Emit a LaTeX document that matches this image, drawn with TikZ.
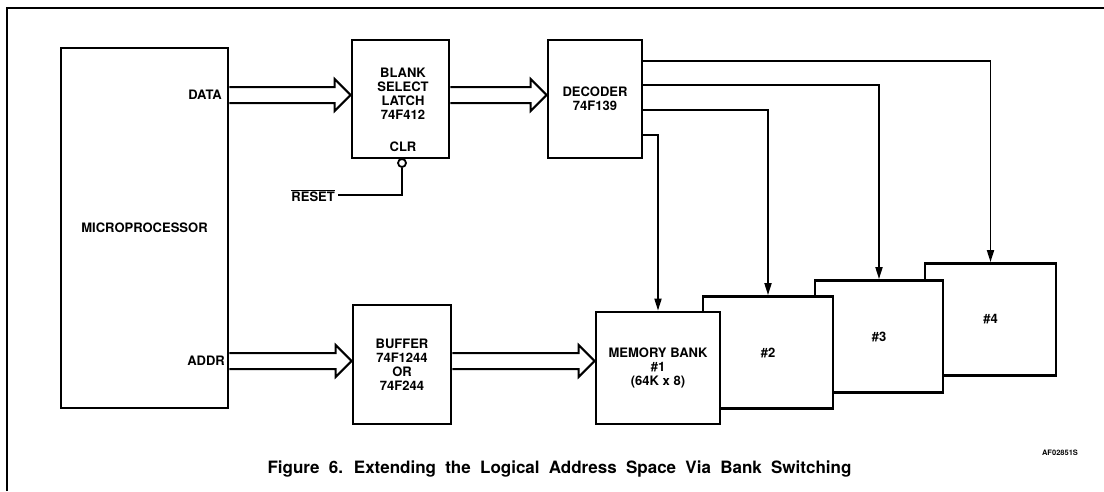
\documentclass[tikz,border=0pt]{standalone}
\usepackage{fontspec}
\setmainfont{TeX Gyre Heros}
\usetikzlibrary{arrows.meta,calc,positioning}
\newcommand\lblfont{\fontsize{13}{14}\selectfont\bfseries}
\newcommand\capfont{\fontsize{17}{20}\selectfont\bfseries\spaceskip=9.3pt\relax}
\newcommand\busarrow[2]{\draw[bus] ($(#1)+(0,-8)$) -- ($(#2)+(-16,-8)$) -- ($(#2)+(-16,-16)$) -- (#2) -- ($(#2)+(-16,16)$) -- ($(#2)+(-16,8)$) -- ($(#1)+(0,8)$);}

\begin{document}
\begin{tikzpicture}[x=1pt,y=-1pt,
  box/.style={draw,line width=2.8pt,fill=white,inner sep=0pt,align=center,font=\lblfont},
  lbl/.style={inner sep=0pt,align=center,font=\lblfont},
  bus/.style={line width=2pt,line join=miter},
  wire/.style={line width=1.8pt},
  sig/.style={wire,-{Triangle[length=12pt,width=7pt]}}]
\fill[white] (0,0) rectangle (1104,491);
\useasboundingbox (0,0) rectangle (1104,491);
\draw[line width=1.2pt] (7,491) -- (7,8) -- (1104,8);
\node[box,minimum width=167pt,minimum height=360pt] (micro) at (144.5,228) {MICROPROCESSOR};
\node[box,minimum width=97pt,minimum height=118pt] (latch) at (400.5,99) {};
\node[lbl] (latchname) at (403,93.5) {BLANK\\SELECT\\LATCH\\74F412};
\node[lbl] (clr) at (403,147) {CLR};
\node[box,minimum width=94pt,minimum height=118pt] (dec) at (595,99) {DECODER\\74F139};
\node[box,minimum width=98pt,minimum height=119pt] (buf) at (402,364.5) {BUFFER\\74F1244\\OR\\74F244};
\foreach \n/\x/\y/\w in {4/990.5/319.5/131,3/879/336.5/128,2/768/352.5/130}
  \node[box,minimum width=\w pt,minimum height=112pt] (bank\n) at (\x,\y) {\#\n};
\node[box,minimum width=124pt,minimum height=112pt] (bank1) at (658,368) {MEMORY BANK\\\#1\\(64K x 8)};
\node[lbl,anchor=east] (data) at (222,95) {DATA};
\node[lbl,anchor=east] (addr) at (225,361) {ADDR};
\node[draw,circle,wire,fill=white,minimum size=8pt,inner sep=0pt] (bubble) at (402,163) {};
\node[lbl,anchor=base east] (reset) at (335,201) {$\overline{\mbox{RESET}}$};
\draw[wire] ([xshift=3pt]reset.east) -| (bubble.south);
\coordinate (b1s) at (micro.east |- data);
\coordinate (b1e) at (latch.west |- data);
\coordinate (b2s) at (latch.east |- data);
\coordinate (b2e) at (dec.west |- data);
\coordinate (b3s) at (micro.east |- addr);
\coordinate (b3e) at (buf.west |- addr);
\coordinate (b4s) at (buf.east |- addr);
\coordinate (b4e) at (bank1.west |- addr);
\foreach \s/\e in {b1s/b1e,b2s/b2e,b3s/b3e,b4s/b4e} \busarrow{\s}{\e};
\foreach \n/\d in {4/22,3/46,2/71,1/96}{
  \coordinate (q\n) at ($(dec.north east)+(0,\d)$);
  \draw[sig] (q\n) -| (bank\n.north);}
\node[font=\fontsize{7.5}{9}\selectfont\bfseries] (fignum) at (1060,453) {AF02851S};
\node[font=\capfont] (caption) at (559.5,469) {Figure 6. Extending the Logical Address Space Via Bank Switching};
\end{tikzpicture}
\end{document}
